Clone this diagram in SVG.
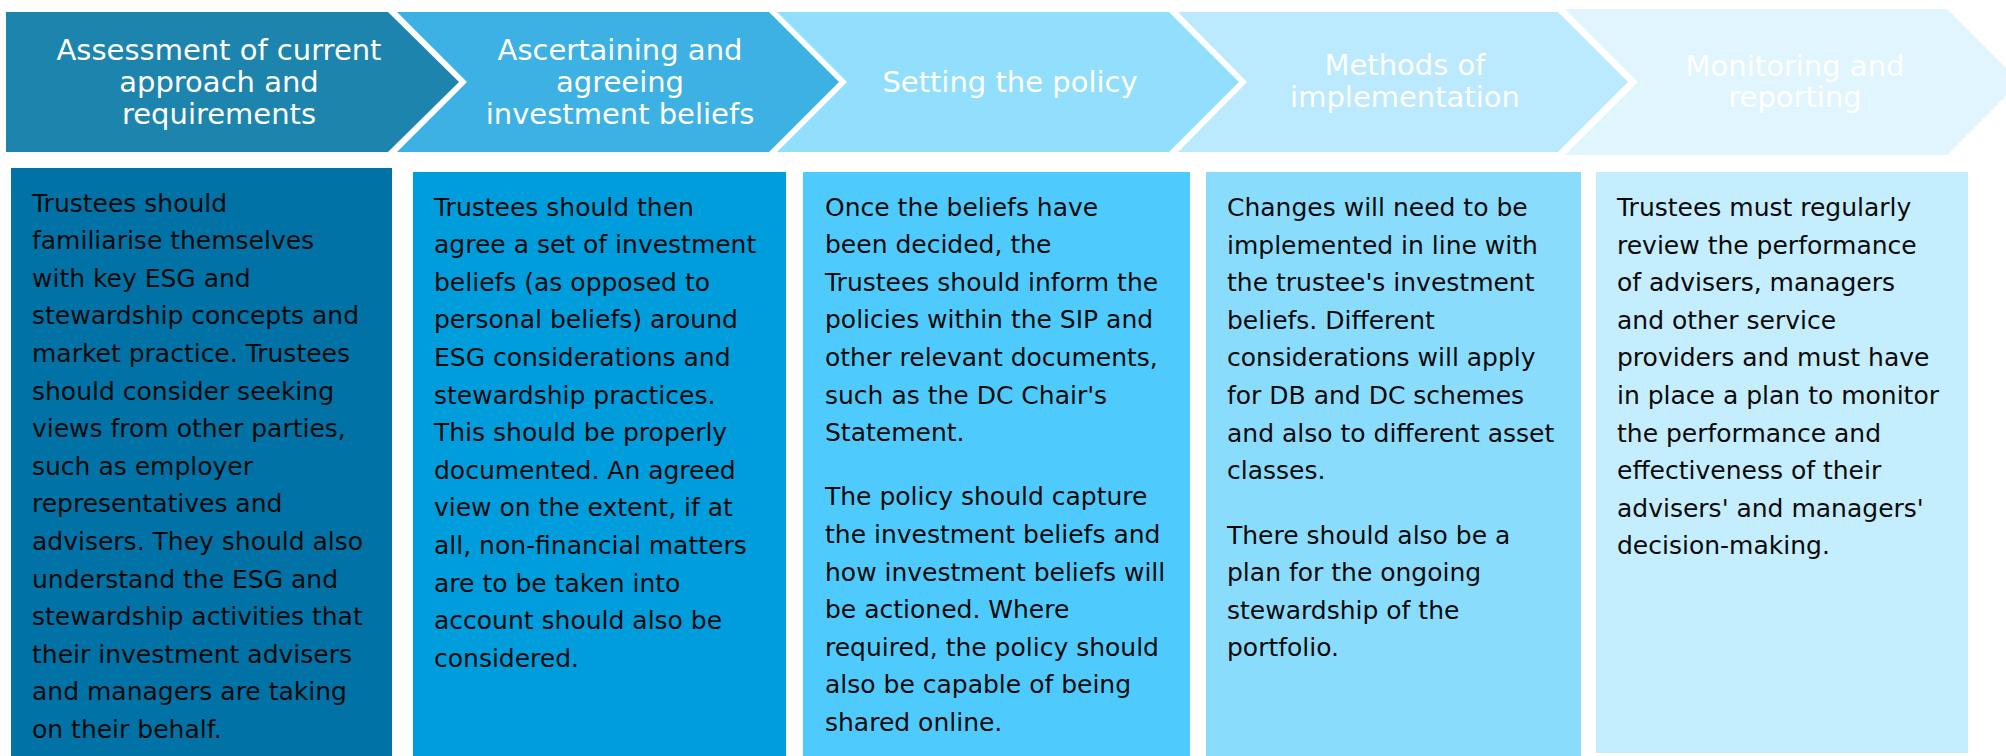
<svg xmlns="http://www.w3.org/2000/svg" width="2006" height="756" viewBox="0 0 2006 756">
<style>
.hd{font-family:"DejaVu Sans","Liberation Sans",Verdana,sans-serif;font-size:29px;fill:#ffffff;text-anchor:middle}
.bd{font-family:"DejaVu Sans","Liberation Sans",Verdana,sans-serif;font-size:25px;fill:#0a0a0a}
</style>
<rect x="0" y="0" width="2006" height="756" fill="#ffffff"/>
<g id="connectors"/>
<g id="step1">
<polygon points="6,12 388,12 459,82 388,152 6,152" fill="#1d84ae"/>
<text class="hd" x="219" y="59.5">Assessment of current</text>
<text class="hd" x="219" y="91.5">approach and</text>
<text class="hd" x="219" y="123.5">requirements</text>
</g>
<g id="step2">
<polygon points="397,12 769,12 839,82 769,152 397,152 467,82" fill="#3db1e3"/>
<text class="hd" x="620" y="59.5">Ascertaining and</text>
<text class="hd" x="620" y="91.5">agreeing</text>
<text class="hd" x="620" y="123.5">investment beliefs</text>
</g>
<g id="step3">
<polygon points="777,12 1169,12 1239,82 1169,152 777,152 847,82" fill="#92dffd"/>
<text class="hd" x="1010" y="92">Setting the policy</text>
</g>
<g id="step4">
<polygon points="1178,12 1558,12 1628,82 1558,152 1178,152 1247,82" fill="#bbe9fd"/>
<text class="hd" x="1405" y="75">Methods of</text>
<text class="hd" x="1405" y="107">implementation</text>
</g>
<g id="step5">
<polygon points="1565,9 1947,9 2020,82 1947,155 1565,155 1638,82" fill="#e0f5fe"/>
<text class="hd" x="1795" y="76">Monitoring and</text>
<text class="hd" x="1795" y="107">reporting</text>
</g>
<g id="box1">
<rect x="11" y="168" width="381" height="588" fill="#0072a6"/>
<text class="bd" x="32" y="211.5">
<tspan x="32" dy="0">Trustees should</tspan>
<tspan x="32" dy="37.6">familiarise themselves</tspan>
<tspan x="32" dy="37.6">with key ESG and</tspan>
<tspan x="32" dy="37.6">stewardship concepts and</tspan>
<tspan x="32" dy="37.6">market practice. Trustees</tspan>
<tspan x="32" dy="37.6">should consider seeking</tspan>
<tspan x="32" dy="37.6">views from other parties,</tspan>
<tspan x="32" dy="37.6">such as employer</tspan>
<tspan x="32" dy="37.6">representatives and</tspan>
<tspan x="32" dy="37.6">advisers. They should also</tspan>
<tspan x="32" dy="37.6">understand the ESG and</tspan>
<tspan x="32" dy="37.6">stewardship activities that</tspan>
<tspan x="32" dy="37.6">their investment advisers</tspan>
<tspan x="32" dy="37.6">and managers are taking</tspan>
<tspan x="32" dy="37.6">on their behalf.</tspan>
</text>
</g>
<g id="box2">
<rect x="413" y="172" width="373" height="584" fill="#009ddd"/>
<text class="bd" x="434" y="215.5">
<tspan x="434" dy="0">Trustees should then</tspan>
<tspan x="434" dy="37.6">agree a set of investment</tspan>
<tspan x="434" dy="37.6">beliefs (as opposed to</tspan>
<tspan x="434" dy="37.6">personal beliefs) around</tspan>
<tspan x="434" dy="37.6">ESG considerations and</tspan>
<tspan x="434" dy="37.6">stewardship practices.</tspan>
<tspan x="434" dy="37.6">This should be properly</tspan>
<tspan x="434" dy="37.6">documented. An agreed</tspan>
<tspan x="434" dy="37.6">view on the extent, if at</tspan>
<tspan x="434" dy="37.6">all, non-financial matters</tspan>
<tspan x="434" dy="37.6">are to be taken into</tspan>
<tspan x="434" dy="37.6">account should also be</tspan>
<tspan x="434" dy="37.6">considered.</tspan>
</text>
</g>
<g id="box3">
<rect x="803" y="172" width="387" height="584" fill="#4fcafd"/>
<text class="bd" x="825" y="215.5">
<tspan x="825" dy="0">Once the beliefs have</tspan>
<tspan x="825" dy="37.6">been decided, the</tspan>
<tspan x="825" dy="37.6">Trustees should inform the</tspan>
<tspan x="825" dy="37.6">policies within the SIP and</tspan>
<tspan x="825" dy="37.6">other relevant documents,</tspan>
<tspan x="825" dy="37.6">such as the DC Chair's</tspan>
<tspan x="825" dy="37.6">Statement.</tspan>
<tspan x="825" dy="64.3">The policy should capture</tspan>
<tspan x="825" dy="37.6">the investment beliefs and</tspan>
<tspan x="825" dy="37.6">how investment beliefs will</tspan>
<tspan x="825" dy="37.6">be actioned. Where</tspan>
<tspan x="825" dy="37.6">required, the policy should</tspan>
<tspan x="825" dy="37.6">also be capable of being</tspan>
<tspan x="825" dy="37.6">shared online.</tspan>
</text>
</g>
<g id="box4">
<rect x="1206" y="172" width="375" height="584" fill="#8adcfd"/>
<text class="bd" x="1227" y="216">
<tspan x="1227" dy="0">Changes will need to be</tspan>
<tspan x="1227" dy="37.6">implemented in line with</tspan>
<tspan x="1227" dy="37.6">the trustee's investment</tspan>
<tspan x="1227" dy="37.6">beliefs. Different</tspan>
<tspan x="1227" dy="37.6">considerations will apply</tspan>
<tspan x="1227" dy="37.6">for DB and DC schemes</tspan>
<tspan x="1227" dy="37.6">and also to different asset</tspan>
<tspan x="1227" dy="37.6">classes.</tspan>
<tspan x="1227" dy="64.3">There should also be a</tspan>
<tspan x="1227" dy="37.6">plan for the ongoing</tspan>
<tspan x="1227" dy="37.6">stewardship of the</tspan>
<tspan x="1227" dy="37.6">portfolio.</tspan>
</text>
</g>
<g id="box5">
<rect x="1596" y="172" width="372" height="581" fill="#c4edfe"/>
<text class="bd" x="1617" y="216">
<tspan x="1617" dy="0">Trustees must regularly</tspan>
<tspan x="1617" dy="37.6">review the performance</tspan>
<tspan x="1617" dy="37.6">of advisers, managers</tspan>
<tspan x="1617" dy="37.6">and other service</tspan>
<tspan x="1617" dy="37.6">providers and must have</tspan>
<tspan x="1617" dy="37.6">in place a plan to monitor</tspan>
<tspan x="1617" dy="37.6">the performance and</tspan>
<tspan x="1617" dy="37.6">effectiveness of their</tspan>
<tspan x="1617" dy="37.6">advisers' and managers'</tspan>
<tspan x="1617" dy="37.6">decision-making.</tspan>
</text>
</g>
</svg>
